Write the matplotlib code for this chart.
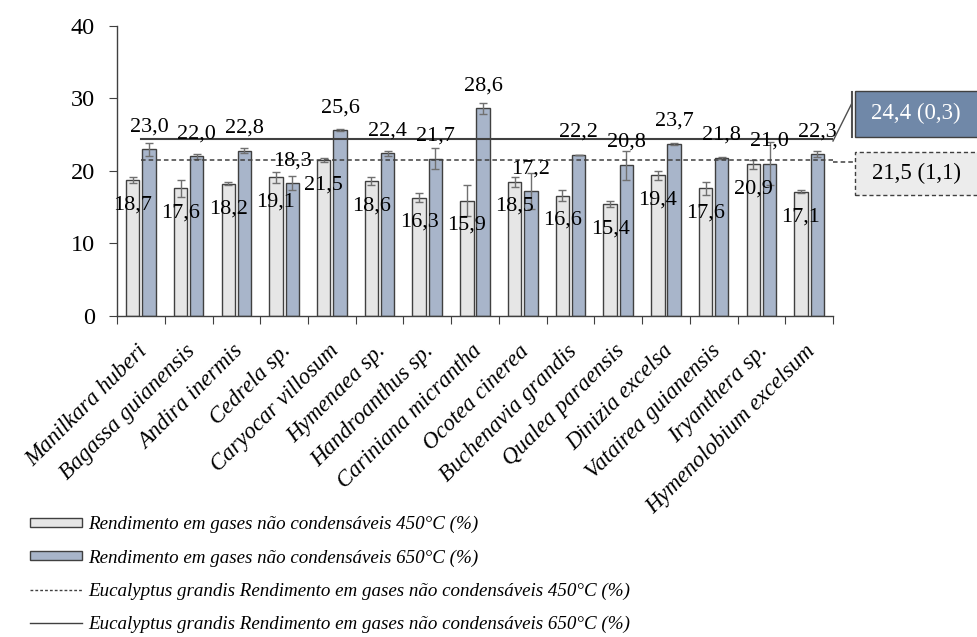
import numpy as np
import matplotlib.pyplot as plt
from matplotlib.patches import Rectangle
from matplotlib.lines import Line2D

# Espécies e valores
especies = ['Manilkara huberi', 'Bagassa guianensis', 'Andira inermis', 'Cedrela sp.',
            'Caryocar villosum', 'Hymenaea sp.', 'Handroanthus sp.', 'Cariniana micrantha',
            'Ocotea cinerea', 'Buchenavia grandis', 'Qualea paraensis', 'Dinizia excelsa',
            'Vatairea guianensis', 'Iryanthera sp.', 'Hymenolobium excelsum']
gases_450 = [18.7, 17.6, 18.2, 19.1, 21.5, 18.6, 16.3, 15.9, 18.5, 16.6, 15.4, 19.4, 17.6, 20.9, 17.1]
gases_650 = [23.0, 22.0, 22.8, 18.3, 25.6, 22.4, 21.7, 28.6, 17.2, 22.2, 20.8, 23.7, 21.8, 21.0, 22.3]
erro_450 = [0.4, 1.2, 0.2, 0.8, 0.3, 0.6, 0.6, 2.1, 0.7, 0.7, 0.4, 0.6, 0.9, 0.6, 0.2]
erro_650 = [0.9, 0.3, 0.4, 1.0, 0.1, 0.4, 1.5, 0.7, 2.5, 0.05, 2.0, 0.1, 0.1, 3.0, 0.4]
eucalipto_450 = 21.5
eucalipto_450_dp = 1.1
eucalipto_650 = 24.4
eucalipto_650_dp = 0.3

leg_450 = 'Rendimento em gases não condensáveis 450°C (%)'
leg_650 = 'Rendimento em gases não condensáveis 650°C (%)'
leg_euc_450 = 'Eucalyptus grandis Rendimento em gases não condensáveis 450°C (%)'
leg_euc_650 = 'Eucalyptus grandis Rendimento em gases não condensáveis 650°C (%)'

plt.rcParams['font.family'] = ['Liberation Serif', 'DejaVu Serif']

cor_450 = '#e6e6e6'
cor_650 = '#a8b5ca'
borda = '#404040'

fig = plt.figure(figsize=(9.77, 6.37), dpi=100)
ax = fig.add_axes([0.1198, 0.5039, 0.7328, 0.4558])

x = np.arange(len(especies))
largura = 0.28
desloc = 0.17

ax.bar(x - desloc, gases_450, largura, color=cor_450, edgecolor=borda, linewidth=1,
       yerr=erro_450, error_kw=dict(ecolor='#707070', elinewidth=1, capsize=3, capthick=1), zorder=2)
ax.bar(x + desloc, gases_650, largura, color=cor_650, edgecolor=borda, linewidth=1,
       yerr=erro_650, error_kw=dict(ecolor='#707070', elinewidth=1, capsize=3, capthick=1), zorder=2)

# linhas de referência do eucalipto
ax.plot([0, len(especies) - 0.5], [eucalipto_650] * 2, color='#404040', lw=1.5, zorder=3)
ax.plot([0, len(especies) - 0.5], [eucalipto_450] * 2, color='#404040', lw=1.1,
        dashes=(3, 2), zorder=3)

# rótulos de dados
for i in range(len(especies)):
    ax.text(x[i] - desloc, gases_450[i] - 3.4, f'{gases_450[i]:.1f}'.replace('.', ','),
            ha='center', va='center', fontsize=16, zorder=4)
    ax.text(x[i] + desloc, gases_650[i] + 3.1, f'{gases_650[i]:.1f}'.replace('.', ','),
            ha='center', va='center', fontsize=16, zorder=4)

ax.set_xlim(-0.5, len(especies) - 0.5)
ax.set_ylim(0, 40)
ax.set_yticks([0, 10, 20, 30, 40])
ax.tick_params(axis='y', labelsize=17.5, length=6, color='#404040', direction='out', pad=10)
ax.set_xticks(np.arange(len(especies) + 1) - 0.5)
ax.set_xticklabels([])
ax.tick_params(axis='x', length=6, color='#404040', direction='out')
for i, nome in enumerate(especies):
    ax.text(i + 0.07, -4.4, nome, rotation=45, ha='right', va='center', rotation_mode='anchor',
            fontsize=16.5, fontstyle='italic', clip_on=False)
for lado in ['top', 'right']:
    ax.spines[lado].set_visible(False)
for lado in ['left', 'bottom']:
    ax.spines[lado].set_color('#404040')
    ax.spines[lado].set_linewidth(1)

# caixas com as médias do eucalipto (coordenadas da figura)
W, H = 977, 637
def fx(px):
    return px / W
def fy(py):
    return 1 - py / H

fig.add_artist(Line2D([fx(833), fx(852)], [fy(141), fy(103)], color='#505050', lw=1))
fig.add_artist(Line2D([fx(852), fx(852)], [fy(92), fy(137)], color='#505050', lw=1.5))
fig.add_artist(Rectangle((fx(855), fy(137)), fx(977 - 855) + 0.01, fy(91) - fy(137),
                         facecolor='#7088a8', edgecolor='#404040', lw=1))
fig.text(fx(916), fy(113), f'{eucalipto_650:.1f} ({eucalipto_650_dp:.1f})'.replace('.', ','),
         color='white', ha='center', va='center', fontsize=16.5)

fig.add_artist(Line2D([fx(833), fx(853)], [fy(162), fy(162)], color='#404040', lw=1.1,
                      dashes=(3, 2)))
fig.add_artist(Rectangle((fx(855), fy(195)), fx(977 - 855) + 0.01, fy(152) - fy(195),
                         facecolor='#ececec', edgecolor='#404040', lw=1, linestyle=(0, (3, 2))))
fig.text(fx(916), fy(173), f'{eucalipto_450:.1f} ({eucalipto_450_dp:.1f})'.replace('.', ','),
         color='black', ha='center', va='center', fontsize=16.5)

# legenda
handles = [Rectangle((0, 0), 1, 1, facecolor=cor_450, edgecolor=borda, lw=1),
           Rectangle((0, 0), 1, 1, facecolor=cor_650, edgecolor=borda, lw=1),
           Line2D([], [], color='#404040', lw=1, dashes=(2, 1.5)),
           Line2D([], [], color='#404040', lw=1)]
fig.legend(handles, [leg_450, leg_650, leg_euc_450, leg_euc_650], loc='upper left',
           bbox_to_anchor=(fx(30), fy(516)), frameon=False, borderpad=0, borderaxespad=0,
           prop=dict(family='Liberation Serif', style='italic', size=13.7),
           handlelength=2.75, handleheight=0.35, handletextpad=0.3, labelspacing=0.84)

fig.savefig('out.png', dpi=100)
